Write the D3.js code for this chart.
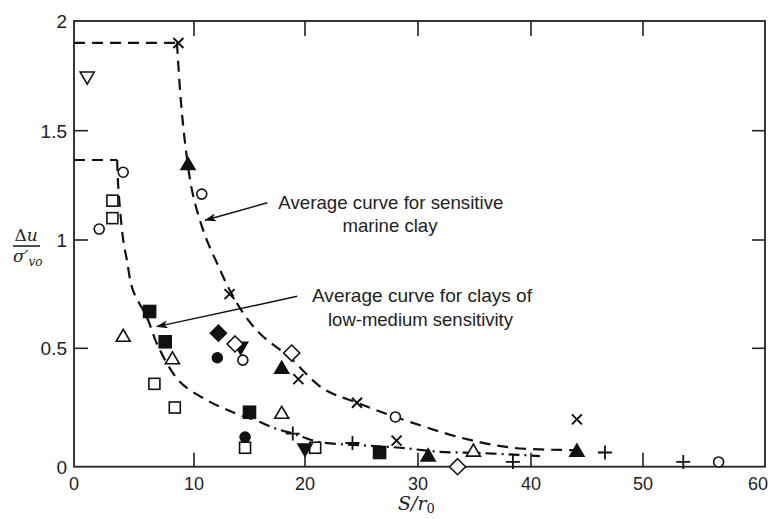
<!DOCTYPE html>
<html><head><meta charset="utf-8">
<script src="https://cdn.jsdelivr.net/npm/d3@7"></script>
<style>body{margin:0;background:#fff}svg{display:block}</style>
</head><body><svg id="c" width="770" height="519"></svg>
<script>
// ---- tick values / labels ----
const xTicks = [0, 10, 20, 30, 40, 50, 60];
const xTickLabels = ["0", "10", "20", "30", "40", "50", "60"];
const yTicks = [0, 0.5, 1, 1.5, 2];
const yTickLabels = ["0", "0.5", "1", "1.5", "2"];

// ---- data points, grouped by marker ----
const openCircle    = [[4.1,1.31],[2.1,1.05],[10.7,1.21],[14.4,0.45],[28.0,0.21],[56.2,0.02]];
const filledCircle  = [[12.1,0.46],[14.6,0.125]];
const openSquare    = [[3.2,1.18],[3.2,1.10],[6.7,0.35],[8.4,0.25],[14.6,0.08],[20.9,0.08]];
const filledSquare  = [[6.3,0.67],[7.6,0.53],[15.0,0.23],[26.6,0.06]];
const openTriUp     = [[4.1,0.56],[8.2,0.46],[17.9,0.23],[34.9,0.07]];
const filledTriUp   = [[9.5,1.35],[17.9,0.42],[30.9,0.05],[44.1,0.07]];
const openTriDown   = [[1.1,1.74]];
const filledTriDown = [[14.2,0.50],[20.0,0.07]];
const openDiamond   = [[13.7,0.52],[18.8,0.48],[33.5,0.0]];
const filledDiamond = [[12.2,0.57]];
const crossPts      = [[8.7,1.90],[13.2,0.75],[19.4,0.37],[24.6,0.27],[28.1,0.11],[44.1,0.20]];
const plusPts       = [[18.9,0.14],[24.2,0.10],[38.4,0.02],[46.6,0.06],[53.3,0.02]];

// ---- average curves ----
const marineLevel = [[0,1.90],[8.58,1.90]];
const marineCurve = [[8.58,1.90],[8.9,1.64],[9.33,1.41],[9.9,1.21],[11.0,1.02],[12.1,0.89],[13.2,0.77],
  [14.6,0.65],[16.1,0.56],[18.65,0.46],[21.6,0.33],[24.6,0.27],[28.0,0.21],[34.0,0.12],[38.4,0.08],[44.1,0.07]];
const lowLevel = [[0,1.366],[3.6,1.366]];
const lowCurve = [[3.6,1.366],[3.67,1.26],[4.1,1.0],[4.4,0.91],[4.9,0.77],[6.1,0.64],[7.0,0.51],[8.8,0.36],
  [11.2,0.28],[13.5,0.23],[15.9,0.19]];
const lowTail = [[15.9,0.19],[17.4,0.16],[18.9,0.14],[21.3,0.104],[25.2,0.09],[28.4,0.08],[31.9,0.063],
  [35.4,0.058],[38.9,0.05],[40.8,0.045]];

// ---- annotations ----
const note1 = ["Average curve for sensitive", "marine clay"];
const note2 = ["Average curve for clays of", "low-medium sensitivity"];
const arrow1 = [[16.6,1.17],[11.0,1.09]];
const arrow2 = [[19.3,0.74],[6.9,0.60]];

const svg = d3.select("#c");
svg.append("rect").attr("width",770).attr("height",519).attr("fill","#fff");

const x = d3.scaleLinear().domain(xTicks).range([74,194,305,418,531,643,765]);
const y = d3.scaleLinear().domain(yTicks).range([466.7,348.3,240,130.7,21]);

const defs = svg.append("defs");
defs.append("marker").attr("id","ah").attr("viewBox","0 0 12 8").attr("refX",11).attr("refY",4)
  .attr("markerWidth",12).attr("markerHeight",8).attr("markerUnits","userSpaceOnUse").attr("orient","auto")
  .append("path").attr("d","M0,0 L12,4 L0,8 L3,4 Z").attr("fill","#111");

// frame
const g = svg.append("g");
g.append("rect").attr("x",x(0)).attr("y",y(2)).attr("width",x(60)-x(0)).attr("height",y(0)-y(2))
  .attr("fill","none").attr("stroke","#222").attr("stroke-width",1.8);

// ticks
xTicks.slice(1,-1).forEach(v=>{
  g.append("line").attr("x1",x(v)).attr("x2",x(v)).attr("y1",y(0)).attr("y2",y(0)-14).attr("stroke","#222").attr("stroke-width",1.6);
  g.append("line").attr("x1",x(v)).attr("x2",x(v)).attr("y1",y(2)).attr("y2",y(2)+15).attr("stroke","#222").attr("stroke-width",1.6);
});
yTicks.slice(1,-1).forEach(v=>{
  g.append("line").attr("x1",x(0)).attr("x2",x(0)+14).attr("y1",y(v)).attr("y2",y(v)).attr("stroke","#222").attr("stroke-width",1.6);
  g.append("line").attr("x1",x(60)).attr("x2",x(60)-13).attr("y1",y(v)).attr("y2",y(v)).attr("stroke","#222").attr("stroke-width",1.6);
});

// tick labels
const font = "'Liberation Sans', Arial, sans-serif";
xTicks.forEach((v,i)=>{
  g.append("text").attr("x",Math.min(x(v),758)).attr("y",490).attr("text-anchor","middle")
    .attr("font-family",font).attr("font-size",18).attr("fill","#222").text(xTickLabels[i]);
});
yTicks.forEach((v,i)=>{
  g.append("text").attr("x",67).attr("y",y(v)+7).attr("text-anchor","end")
    .attr("font-family",font).attr("font-size",19).attr("fill","#222").text(yTickLabels[i]);
});

// axis titles
const serif = "'DejaVu Serif', 'Liberation Serif', serif";
const xt = g.append("text").attr("x",398).attr("y",510).attr("font-family",serif).attr("font-style","italic")
  .attr("font-size",19).attr("fill","#222");
xt.append("tspan").text("S/r");
xt.append("tspan").attr("dy",3).attr("font-size",13).attr("font-style","normal").text("0");

const yt1 = g.append("text").attr("x",26).attr("y",241).attr("text-anchor","middle").attr("font-family",serif)
  .attr("font-size",17).attr("fill","#222");
yt1.append("tspan").text("Δ");
yt1.append("tspan").attr("font-style","italic").text("u");
g.append("line").attr("x1",13).attr("x2",40).attr("y1",246).attr("y2",246).attr("stroke","#222").attr("stroke-width",1.6);
const yt2 = g.append("text").attr("x",13).attr("y",262).attr("font-family",serif)
  .attr("font-size",17).attr("fill","#222");
yt2.append("tspan").attr("font-style","italic").text("σ′");
yt2.append("tspan").attr("dy",4).attr("font-size",12).attr("font-style","italic").text("vo");

// curves
const line = d3.line().x(d=>x(d[0])).y(d=>y(d[1]));
const curve = d3.line().x(d=>x(d[0])).y(d=>y(d[1])).curve(d3.curveCatmullRom.alpha(0.5));
const dash = "11,7";
[marineLevel, lowLevel].forEach(p=>g.append("path").attr("d",line(p)).attr("fill","none")
  .attr("stroke","#111").attr("stroke-width",2.2).attr("stroke-dasharray",dash));
[marineCurve, lowCurve].forEach(p=>g.append("path").attr("d",curve(p)).attr("fill","none")
  .attr("stroke","#111").attr("stroke-width",2.2).attr("stroke-dasharray",dash));
g.append("path").attr("d",curve(lowTail)).attr("fill","none")
  .attr("stroke","#111").attr("stroke-width",2.2).attr("stroke-dasharray","11,5,2,5");

// markers
const mk = g.append("g").attr("stroke","#111").attr("stroke-width",1.6);
function pts(arr, drawFn){ arr.forEach(d=>drawFn(x(d[0]), y(d[1]))); }
const circ = (filled,r)=>(cx,cy)=>mk.append("circle").attr("cx",cx).attr("cy",cy).attr("r",r)
  .attr("fill",filled?"#111":"#fff");
const sq = (filled,s)=>(cx,cy)=>mk.append("rect").attr("x",cx-s/2).attr("y",cy-s/2).attr("width",s).attr("height",s)
  .attr("fill",filled?"#111":"#fff");
const tri = (filled,up)=>(cx,cy)=>{const w=7,h=6; const p = up?
  `M${cx-w},${cy+h}L${cx+w},${cy+h}L${cx},${cy-h}Z` : `M${cx-w},${cy-h}L${cx+w},${cy-h}L${cx},${cy+h}Z`;
  mk.append("path").attr("d",p).attr("fill",filled?"#111":"#fff").attr("stroke-linejoin","miter");};
const dia = (filled,r)=>(cx,cy)=>mk.append("path").attr("d",`M${cx},${cy-r}L${cx+r},${cy}L${cx},${cy+r}L${cx-r},${cy}Z`)
  .attr("fill",filled?"#111":"#fff");
const cross = (cx,cy)=>{const r=5; mk.append("path").attr("d",`M${cx-r},${cy-r}L${cx+r},${cy+r}M${cx-r},${cy+r}L${cx+r},${cy-r}`).attr("stroke-width",2);};
const plus = (cx,cy)=>{const r=7; mk.append("path").attr("d",`M${cx-r},${cy}L${cx+r},${cy}M${cx},${cy-r}L${cx},${cy+r}`).attr("stroke-width",1.8);};

pts(openSquare, sq(false,11));
pts(filledSquare, sq(true,12));
pts(openCircle, circ(false,5));
pts(filledCircle, circ(true,5));
pts(openTriUp, tri(false,true));
pts(filledTriUp, tri(true,true));
pts(openTriDown, tri(false,false));
pts(filledTriDown, tri(true,false));
pts(openDiamond, dia(false,8));
pts(filledDiamond, dia(true,8));
pts(crossPts, cross);
pts(plusPts, plus);

// annotations
const ann = g.append("g").attr("font-family",font).attr("fill","#222");
ann.append("text").attr("x",x(17.6)).attr("y",209).attr("font-size",18.5)
  .attr("textLength",225).attr("lengthAdjust","spacingAndGlyphs").text(note1[0]);
ann.append("text").attr("x",390).attr("y",232).attr("text-anchor","middle").attr("font-size",18.5)
  .attr("textLength",95).attr("lengthAdjust","spacingAndGlyphs").text(note1[1]);
ann.append("text").attr("x",312).attr("y",302).attr("font-size",18.5)
  .attr("textLength",220).attr("lengthAdjust","spacingAndGlyphs").text(note2[0]);
ann.append("text").attr("x",328).attr("y",326).attr("font-size",18.5)
  .attr("textLength",185).attr("lengthAdjust","spacingAndGlyphs").text(note2[1]);

[arrow1, arrow2].forEach(a=>g.append("line").attr("x1",x(a[0][0])).attr("y1",y(a[0][1]))
  .attr("x2",x(a[1][0])).attr("y2",y(a[1][1])).attr("stroke","#111").attr("stroke-width",1.5)
  .attr("marker-end","url(#ah)"));
</script></body></html>
